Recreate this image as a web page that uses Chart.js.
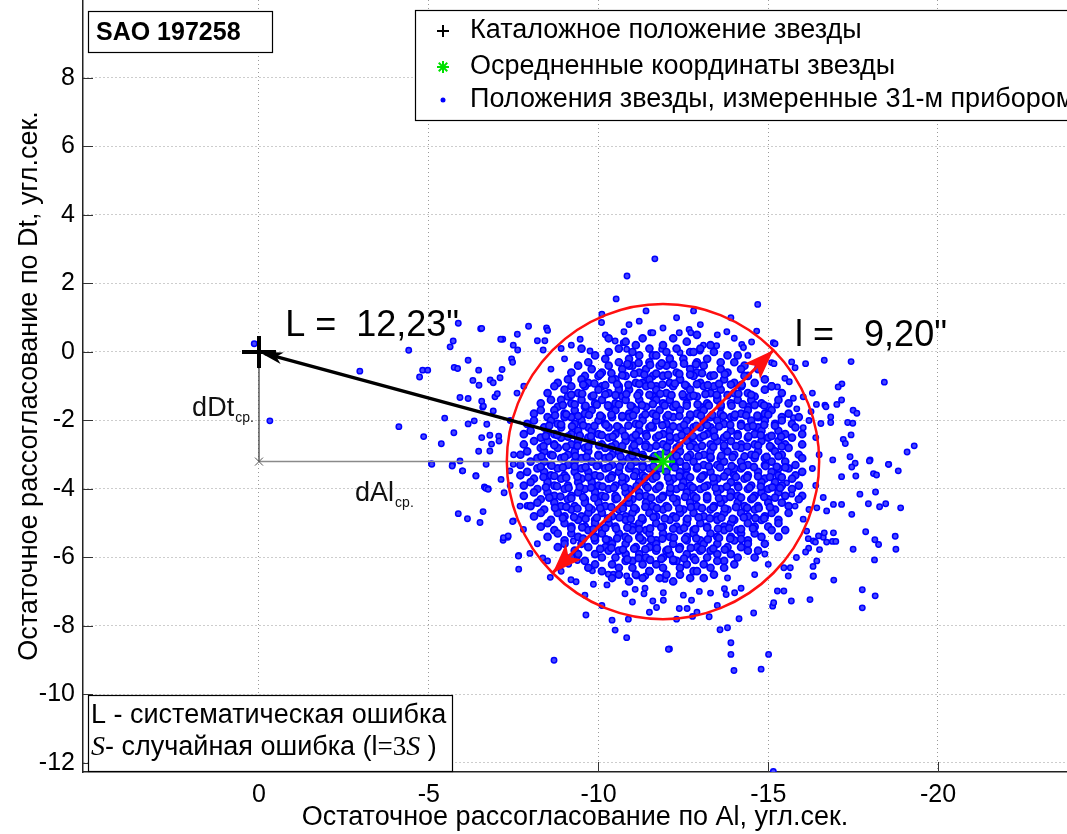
<!DOCTYPE html>
<html>
<head>
<meta charset="utf-8">
<script src="https://cdn.jsdelivr.net/npm/chart.js@4.4.1/dist/chart.umd.min.js"></script>
<style>
  body { margin: 0; background: #fff; }
  canvas { display: block; }
</style>
</head>
<body>
<canvas id="chart" width="1067" height="834"></canvas>
<script>
// Оси
const xTicks = [0, -5, -10, -15, -20];
const yTicks = [8, 6, 4, 2, 0, -2, -4, -6, -8, -10, -12];

// Каталожное и среднее положение, круг разброса
const catalogPos = [0, 0];
const meanPos = [-11.9, -3.2];
const circleRadius = 4.6;
const spreadEnds = [[-8.65, -6.45], [-15.15, 0.05]];

const labelL = 'L =  12,23"';
const labelSpread = 'l =   9,20"';
const legendLabels = [
  "Каталожное положение звезды",
  "Осредненные координаты звезды",
  "Положения звезды, измеренные 31-м прибором",
];

// Измеренные положения (пары x, y), плотное ядро облака
const measuredCore = [
  -10.6,0.1, -10.8,0.3, -11.0,0.0, -11.1,0.2, -11.5,0.1, -11.6,-0.1, -11.9,0.2, -12.0,0.0, -12.3,0.1, -12.6,0.3, -12.7,0.0, -13.0,0.1, -13.3,0.2, -10.3,0.4, -12.2,0.4, -11.3,0.4, -12.9,0.5,
  -9.7,-0.3, -9.9,-0.1, -10.2,-0.2, -10.3,0.0, -10.6,-0.3, -10.9,-0.2, -11.0,-0.4, -11.2,-0.1, -11.5,-0.3, -11.7,-0.1, -11.8,-0.4, -12.1,-0.2, -12.5,-0.2, -12.8,0.0, -12.9,-0.3, -13.2,-0.2, -13.4,0.0, -13.6,-0.3, -13.8,-0.1, -14.1,-0.1, -14.3,-0.4, -9.5,0.1,
  -9.2,-0.6, -9.4,-0.4, -9.6,-0.7, -9.8,-0.5, -10.1,-0.6, -10.3,-0.4, -10.5,-0.8, -10.7,-0.5, -10.9,-0.4, -11.2,-0.6, -11.4,-0.5, -11.6,-0.7, -12.0,-0.4, -12.3,-0.6, -12.4,-0.8, -12.7,-0.5, -12.9,-0.6, -13.1,-0.4, -13.3,-0.7, -13.6,-0.5, -13.8,-0.6, -14.0,-0.3, -14.2,-0.5, -14.4,-0.7, -14.7,-0.5, -11.9,-0.7,
  -8.8,-0.9, -9.1,-0.8, -9.2,-1.0, -9.5,-0.8, -9.7,-0.9, -10.0,-0.7, -10.1,-1.0, -10.4,-0.8, -10.6,-1.0, -10.8,-0.7, -11.1,-0.9, -11.3,-0.9, -11.5,-0.8, -11.7,-1.0, -11.9,-0.7, -12.1,-0.9, -12.4,-0.8, -12.6,-1.0, -12.8,-0.7, -13.0,-0.9, -13.3,-0.7, -13.4,-1.0, -13.7,-0.8, -14.0,-0.9, -14.2,-1.0, -14.3,-0.7, -14.6,-0.9, -14.9,-0.8, -15.1,-1.0,
  -8.5,-1.2, -8.7,-1.0, -9.0,-1.1, -9.1,-1.3, -9.4,-1.2, -9.6,-1.0, -9.8,-1.3, -10.0,-1.1, -10.3,-1.2, -10.6,-1.1, -10.7,-1.3, -10.9,-1.1, -11.2,-1.2, -11.4,-1.0, -11.6,-1.3, -11.7,-1.1, -12.0,-1.2, -12.2,-1.0, -12.5,-1.3, -12.7,-1.1, -13.1,-1.0, -13.3,-1.2, -13.5,-1.3, -13.6,-1.1, -14.0,-1.2, -14.2,-1.0, -14.4,-1.2, -14.6,-1.3, -14.9,-1.1, -15.1,-1.0, -15.4,-1.2, -12.9,-1.3,
  -8.3,-1.5, -8.6,-1.4, -8.8,-1.6, -8.9,-1.4, -9.2,-1.5, -9.5,-1.4, -9.6,-1.6, -9.9,-1.5, -10.1,-1.4, -10.3,-1.6, -10.5,-1.5, -10.8,-1.4, -11.0,-1.6, -11.2,-1.4, -11.4,-1.6, -11.9,-1.5, -12.1,-1.4, -12.3,-1.6, -12.6,-1.5, -12.7,-1.3, -13.0,-1.6, -13.2,-1.5, -13.5,-1.4, -13.6,-1.6, -13.9,-1.5, -14.1,-1.4, -14.4,-1.6, -14.5,-1.4, -14.8,-1.5, -15.0,-1.6, -15.3,-1.4, -15.6,-1.5, -11.7,-1.4,
  -8.1,-1.8, -8.3,-1.7, -8.5,-1.9, -8.7,-1.7, -9.0,-1.8, -9.2,-1.9, -9.3,-1.7, -9.6,-1.8, -9.8,-1.7, -10.1,-1.9, -10.5,-1.7, -10.7,-1.9, -10.9,-1.8, -11.1,-1.7, -11.3,-1.9, -11.6,-1.8, -11.8,-1.7, -12.0,-1.9, -12.2,-1.6, -12.4,-1.7, -12.7,-1.9, -12.9,-1.8, -13.1,-1.7, -13.3,-1.9, -13.6,-1.8, -13.9,-1.9, -14.2,-1.8, -14.4,-1.7, -14.7,-1.9, -14.9,-1.8, -15.1,-1.7, -15.4,-1.9, -15.6,-1.8,
  -7.9,-2.1, -8.1,-2.0, -8.4,-2.2, -8.6,-2.0, -8.8,-2.1, -9.0,-1.9, -9.3,-2.1, -9.5,-2.0, -9.7,-2.2, -10.0,-2.0, -10.2,-2.1, -10.4,-1.9, -10.6,-2.2, -11.1,-2.1, -11.3,-2.0, -11.5,-2.2, -11.7,-2.0, -12.0,-2.1, -12.2,-1.9, -12.4,-2.2, -12.6,-2.0, -12.8,-2.2, -13.1,-2.0, -13.3,-2.2, -13.5,-2.0, -13.7,-2.1, -14.0,-1.9, -14.2,-2.1, -14.5,-2.0, -14.7,-2.2, -14.9,-2.0, -15.2,-2.1, -15.4,-2.0, -15.7,-2.1, -15.9,-1.9, -10.9,-1.9,
  -7.8,-2.4, -8.0,-2.3, -8.3,-2.5, -8.5,-2.3, -8.7,-2.4, -8.9,-2.2, -9.2,-2.4, -9.4,-2.3, -9.7,-2.5, -9.8,-2.3, -10.0,-2.4, -10.3,-2.2, -10.5,-2.4, -10.7,-2.3, -11.0,-2.5, -11.2,-2.3, -11.4,-2.4, -11.6,-2.2, -11.9,-2.4, -12.1,-2.3, -12.3,-2.5, -12.6,-2.3, -12.7,-2.5, -13.0,-2.2, -13.2,-2.4, -13.4,-2.3, -13.7,-2.5, -13.9,-2.3, -14.1,-2.4, -14.4,-2.2, -14.6,-2.4, -14.8,-2.3, -15.0,-2.5, -15.3,-2.3, -15.5,-2.4, -15.8,-2.2, -16.0,-2.4,
  -7.8,-2.7, -8.1,-2.6, -8.3,-2.8, -8.5,-2.6, -8.7,-2.7, -8.9,-2.5, -9.2,-2.7, -9.4,-2.6, -9.6,-2.8, -9.8,-2.6, -10.1,-2.7, -10.3,-2.5, -10.5,-2.7, -10.8,-2.6, -11.0,-2.8, -11.2,-2.6, -11.4,-2.7, -11.7,-2.5, -11.9,-2.7, -12.1,-2.6, -12.3,-2.8, -12.6,-2.6, -12.8,-2.7, -13.0,-2.5, -13.3,-2.7, -13.5,-2.6, -13.7,-2.8, -13.9,-2.6, -14.2,-2.7, -14.4,-2.5, -14.6,-2.7, -14.8,-2.6, -15.1,-2.8, -15.3,-2.6, -15.5,-2.7, -15.7,-2.5, -16.0,-2.7,
  -7.7,-3.0, -7.9,-2.9, -8.2,-3.1, -8.4,-2.9, -8.6,-3.0, -8.8,-2.8, -9.1,-3.0, -9.3,-2.9, -9.5,-3.1, -9.7,-2.9, -10.0,-3.0, -10.2,-2.8, -10.4,-3.0, -10.6,-2.9, -10.9,-3.1, -11.1,-2.9, -11.3,-3.0, -11.5,-2.8, -11.8,-3.0, -12.0,-2.9, -12.2,-3.1, -12.4,-2.9, -12.7,-3.0, -12.9,-2.8, -13.1,-3.0, -13.3,-2.9, -13.6,-3.1, -13.8,-2.9, -14.0,-3.0, -14.2,-2.8, -14.5,-3.0, -14.7,-2.9, -14.9,-3.1, -15.2,-2.9, -15.4,-3.0, -15.6,-2.8, -15.9,-3.0,
  -7.7,-3.3, -8.0,-3.2, -8.2,-3.4, -8.4,-3.2, -8.6,-3.3, -8.9,-3.1, -9.1,-3.3, -9.3,-3.2, -9.5,-3.4, -9.8,-3.2, -10.0,-3.3, -10.2,-3.1, -10.4,-3.3, -10.7,-3.2, -10.9,-3.4, -11.1,-3.2, -11.3,-3.3, -11.6,-3.1, -11.8,-3.4, -12.2,-3.3, -12.4,-3.2, -12.6,-3.4, -12.8,-3.2, -13.1,-3.3, -13.3,-3.1, -13.5,-3.3, -13.7,-3.2, -14.0,-3.4, -14.2,-3.2, -14.4,-3.3, -14.6,-3.1, -14.9,-3.3, -15.1,-3.2, -15.3,-3.4, -15.5,-3.2, -15.8,-3.3, -16.0,-3.1,
  -7.7,-3.6, -7.9,-3.5, -8.1,-3.7, -8.4,-3.5, -8.6,-3.6, -8.8,-3.4, -9.0,-3.6, -9.3,-3.5, -9.5,-3.7, -9.7,-3.5, -9.9,-3.6, -10.2,-3.4, -10.4,-3.6, -10.6,-3.5, -10.8,-3.7, -11.1,-3.5, -11.3,-3.6, -11.5,-3.4, -11.7,-3.6, -12.0,-3.5, -12.2,-3.7, -12.4,-3.5, -12.6,-3.6, -12.9,-3.4, -13.1,-3.6, -13.3,-3.5, -13.5,-3.7, -13.8,-3.5, -14.0,-3.6, -14.2,-3.4, -14.4,-3.6, -14.7,-3.5, -14.9,-3.7, -15.1,-3.5, -15.3,-3.6, -15.6,-3.4, -15.8,-3.6, -16.0,-3.5,
  -7.8,-3.9, -8.0,-3.8, -8.2,-4.0, -8.5,-3.8, -8.7,-3.9, -8.9,-3.7, -9.1,-3.9, -9.4,-3.8, -9.6,-4.0, -9.8,-3.8, -10.0,-3.9, -10.3,-3.7, -10.5,-3.9, -10.7,-3.8, -10.9,-4.0, -11.2,-3.8, -11.4,-3.9, -11.6,-3.7, -11.8,-3.9, -12.1,-3.8, -12.3,-4.0, -12.5,-3.8, -12.7,-3.9, -13.0,-3.7, -13.2,-3.9, -13.4,-3.8, -13.6,-4.0, -13.9,-3.8, -14.1,-3.9, -14.3,-3.7, -14.5,-3.9, -14.8,-3.8, -15.0,-4.0, -15.2,-3.8, -15.4,-3.9, -15.7,-3.7, -15.9,-3.9,
  -7.8,-4.2, -8.1,-4.1, -8.3,-4.3, -8.5,-4.1, -8.7,-4.2, -9.0,-4.0, -9.2,-4.2, -9.4,-4.1, -9.6,-4.3, -9.9,-4.1, -10.1,-4.2, -10.3,-4.0, -10.5,-4.2, -10.8,-4.1, -11.0,-4.3, -11.2,-4.1, -11.4,-4.2, -11.7,-4.0, -11.9,-4.2, -12.1,-4.1, -12.3,-4.3, -12.6,-4.1, -12.8,-4.2, -13.0,-4.0, -13.2,-4.2, -13.5,-4.1, -13.7,-4.3, -13.9,-4.1, -14.1,-4.2, -14.4,-4.0, -14.6,-4.2, -14.8,-4.1, -15.0,-4.3, -15.3,-4.1, -15.5,-4.2, -15.7,-4.0, -16.0,-4.2,
  -8.0,-4.5, -8.2,-4.4, -8.4,-4.6, -8.7,-4.4, -8.9,-4.5, -9.1,-4.3, -9.3,-4.5, -9.6,-4.4, -9.8,-4.6, -10.0,-4.4, -10.2,-4.5, -10.5,-4.3, -10.7,-4.5, -10.9,-4.4, -11.1,-4.6, -11.4,-4.4, -11.6,-4.5, -11.8,-4.3, -12.0,-4.5, -12.3,-4.4, -12.5,-4.6, -12.7,-4.4, -12.9,-4.5, -13.2,-4.3, -13.4,-4.5, -13.6,-4.4, -13.8,-4.6, -14.1,-4.4, -14.3,-4.5, -14.5,-4.3, -14.7,-4.5, -15.0,-4.4, -15.2,-4.6, -15.4,-4.4, -15.6,-4.5, -15.9,-4.3,
  -8.1,-4.8, -8.3,-4.7, -8.6,-4.9, -8.8,-4.7, -9.0,-4.8, -9.2,-4.6, -9.5,-4.8, -9.7,-4.7, -9.9,-4.9, -10.1,-4.7, -10.4,-4.8, -10.6,-4.6, -10.8,-4.8, -11.0,-4.7, -11.3,-4.9, -11.5,-4.7, -11.7,-4.8, -11.9,-4.6, -12.2,-4.8, -12.4,-4.7, -12.6,-4.9, -12.8,-4.7, -13.1,-4.8, -13.3,-4.6, -13.5,-4.8, -13.7,-4.7, -14.0,-4.9, -14.2,-4.7, -14.4,-4.8, -14.6,-4.6, -14.9,-4.8, -15.1,-4.7, -15.3,-4.9, -15.6,-4.7,
  -8.3,-5.1, -8.5,-5.0, -8.7,-5.2, -9.0,-5.0, -9.2,-5.1, -9.4,-4.9, -9.6,-5.1, -9.9,-5.0, -10.1,-5.2, -10.3,-5.0, -10.5,-5.1, -10.8,-4.9, -11.0,-5.1, -11.2,-5.0, -11.4,-5.2, -11.7,-5.0, -11.9,-5.1, -12.1,-4.9, -12.3,-5.1, -12.6,-5.0, -12.8,-5.2, -13.0,-5.0, -13.2,-5.1, -13.5,-4.9, -13.7,-5.1, -13.9,-5.0, -14.1,-5.2, -14.4,-5.0, -14.6,-5.1, -14.8,-4.9, -15.0,-5.1, -15.3,-5.0, -15.5,-5.2,
  -8.5,-5.4, -8.8,-5.3, -9.0,-5.5, -9.2,-5.3, -9.4,-5.4, -9.7,-5.2, -9.9,-5.4, -10.1,-5.3, -10.3,-5.5, -10.6,-5.3, -10.8,-5.4, -11.0,-5.2, -11.2,-5.4, -11.5,-5.3, -11.7,-5.5, -11.9,-5.3, -12.1,-5.4, -12.4,-5.2, -12.6,-5.4, -12.8,-5.3, -13.0,-5.5, -13.3,-5.3, -13.5,-5.4, -13.7,-5.2, -13.9,-5.4, -14.2,-5.3, -14.4,-5.5, -14.6,-5.3, -14.8,-5.4, -15.1,-5.2, -15.3,-5.4,
  -8.8,-5.7, -9.0,-5.6, -9.3,-5.8, -9.5,-5.6, -9.7,-5.7, -9.9,-5.5, -10.2,-5.7, -10.4,-5.6, -10.6,-5.8, -10.8,-5.6, -11.1,-5.7, -11.3,-5.5, -11.5,-5.7, -11.7,-5.6, -12.0,-5.8, -12.2,-5.6, -12.4,-5.7, -12.6,-5.5, -12.9,-5.7, -13.1,-5.6, -13.3,-5.8, -13.5,-5.6, -13.8,-5.7, -14.0,-5.5, -14.2,-5.7, -14.4,-5.6, -14.7,-5.8, -14.9,-5.6,
  -9.2,-6.0, -9.4,-5.9, -9.6,-6.1, -9.9,-5.9, -10.1,-6.0, -10.3,-5.8, -10.5,-6.0, -10.8,-5.9, -11.0,-6.1, -11.2,-5.9, -11.4,-6.0, -11.7,-5.8, -11.9,-6.0, -12.1,-5.9, -12.3,-6.1, -12.6,-5.9, -12.8,-6.0, -13.0,-5.8, -13.2,-6.0, -13.5,-5.9, -13.7,-6.1, -13.9,-5.9, -14.1,-6.0, -14.4,-5.8, -14.6,-6.0,
  -9.7,-6.3, -9.9,-6.2, -10.1,-6.4, -10.4,-6.2, -10.6,-6.3, -10.8,-6.1, -11.0,-6.3, -11.3,-6.2, -11.5,-6.4, -11.7,-6.2, -11.9,-6.3, -12.2,-6.1, -12.4,-6.3, -12.6,-6.2, -12.8,-6.4, -13.1,-6.2, -13.3,-6.3, -13.5,-6.1, -13.7,-6.3, -14.0,-6.2,
  -10.4,-6.6, -10.6,-6.5, -10.9,-6.7, -11.1,-6.5, -11.3,-6.6, -11.5,-6.4, -11.8,-6.6, -12.0,-6.5, -12.2,-6.7, -12.4,-6.5, -12.7,-6.6, -12.9,-6.4, -13.1,-6.6, -13.4,-6.5,
];

// Самая плотная центральная часть (пары x, y)
const measuredCenter = [
  -10.85,-0.35, -11.18,-0.32, -11.52,-0.38, -11.86,-0.33, -12.2,-0.37, -12.52,-0.34, -12.87,-0.36,
  -10.05,-0.65, -10.38,-0.62, -10.7,-0.68, -11.05,-0.64, -11.35,-0.66, -11.7,-0.63, -12.05,-0.67, -12.38,-0.64, -12.7,-0.66, -13.05,-0.62, -13.4,-0.68, -13.72,-0.65,
  -9.55,-0.95, -9.88,-0.92, -10.2,-0.97, -10.55,-0.94, -10.88,-0.96, -11.2,-0.93, -11.55,-0.97, -11.88,-0.95, -12.25,-0.92, -12.55,-0.96, -12.9,-0.94, -13.22,-0.97, -13.55,-0.93, -13.9,-0.95, -14.22,-0.96,
  -9.2,-1.25, -9.52,-1.22, -9.85,-1.27, -10.2,-1.24, -10.5,-1.26, -10.82,-1.23, -11.15,-1.27, -11.5,-1.25, -11.82,-1.22, -12.15,-1.26, -12.48,-1.24, -12.8,-1.27, -13.15,-1.23, -13.48,-1.25, -13.8,-1.26, -14.12,-1.22, -14.5,-1.25,
  -8.95,-1.55, -9.3,-1.53, -9.62,-1.57, -9.95,-1.54, -10.28,-1.56, -10.6,-1.53, -10.95,-1.57, -11.28,-1.55, -11.6,-1.52, -11.95,-1.56, -12.28,-1.54, -12.6,-1.57, -12.92,-1.53, -13.25,-1.56, -13.6,-1.54, -13.92,-1.57, -14.25,-1.53, -14.6,-1.55, -14.88,-1.56,
  -8.72,-1.85, -9.05,-1.82, -9.4,-1.87, -9.72,-1.84, -10.05,-1.86, -10.38,-1.83, -10.7,-1.87, -11.02,-1.85, -11.38,-1.82, -11.7,-1.86, -12.05,-1.84, -12.38,-1.87, -12.7,-1.83, -13.02,-1.86, -13.35,-1.84, -13.68,-1.87, -14.02,-1.83, -14.35,-1.85, -14.68,-1.86, -15.0,-1.83,
  -8.55,-2.15, -8.9,-2.12, -9.22,-2.17, -9.55,-2.14, -9.88,-2.16, -10.22,-2.13, -10.55,-2.17, -10.88,-2.15, -11.2,-2.12, -11.55,-2.16, -11.88,-2.14, -12.2,-2.17, -12.52,-2.13, -12.88,-2.16, -13.2,-2.14, -13.55,-2.17, -13.88,-2.13, -14.2,-2.15, -14.55,-2.16, -14.88,-2.13, -15.2,-2.15,
  -8.45,-2.45, -8.78,-2.42, -9.1,-2.47, -9.45,-2.44, -9.78,-2.46, -10.1,-2.43, -10.42,-2.47, -10.78,-2.45, -11.1,-2.42, -11.42,-2.46, -11.78,-2.44, -12.1,-2.47, -12.45,-2.43, -12.78,-2.46, -13.1,-2.44, -13.42,-2.47, -13.78,-2.43, -14.1,-2.45, -14.42,-2.46, -14.78,-2.43, -15.1,-2.45, -15.38,-2.47,
  -8.38,-2.75, -8.7,-2.72, -9.05,-2.77, -9.38,-2.74, -9.7,-2.76, -10.02,-2.73, -10.38,-2.77, -10.7,-2.75, -11.05,-2.72, -11.38,-2.76, -11.7,-2.74, -12.02,-2.77, -12.38,-2.73, -12.7,-2.76, -13.05,-2.74, -13.38,-2.77, -13.7,-2.73, -14.05,-2.75, -14.38,-2.76, -14.7,-2.73, -15.05,-2.75, -15.4,-2.76,
  -8.32,-3.05, -8.65,-3.02, -9.0,-3.07, -9.32,-3.04, -9.65,-3.06, -10.0,-3.03, -10.32,-3.07, -10.65,-3.05, -11.0,-3.02, -11.32,-3.06, -11.65,-3.04, -12.3,-3.03, -12.62,-3.07, -12.95,-3.04, -13.3,-3.06, -13.62,-3.03, -13.95,-3.07, -14.3,-3.05, -14.62,-3.02, -14.95,-3.06, -15.3,-3.04,
  -8.3,-3.35, -8.62,-3.32, -8.95,-3.37, -9.3,-3.34, -9.62,-3.36, -9.95,-3.33, -10.3,-3.37, -10.62,-3.35, -10.95,-3.32, -11.3,-3.36, -11.62,-3.34, -12.25,-3.37, -12.58,-3.33, -12.92,-3.36, -13.25,-3.34, -13.58,-3.37, -13.92,-3.33, -14.25,-3.35, -14.58,-3.36, -14.92,-3.33, -15.25,-3.35, -15.5,-3.37,
  -8.38,-3.65, -8.7,-3.62, -9.05,-3.67, -9.38,-3.64, -9.7,-3.66, -10.05,-3.63, -10.38,-3.67, -10.7,-3.65, -11.05,-3.62, -11.38,-3.66, -11.7,-3.64, -12.05,-3.67, -12.38,-3.63, -12.7,-3.66, -13.05,-3.64, -13.38,-3.67, -13.7,-3.63, -14.05,-3.65, -14.38,-3.66, -14.7,-3.63, -15.05,-3.65, -15.4,-3.66,
  -8.45,-3.95, -8.78,-3.92, -9.12,-3.97, -9.45,-3.94, -9.78,-3.96, -10.12,-3.93, -10.45,-3.97, -10.78,-3.95, -11.12,-3.92, -11.45,-3.96, -11.78,-3.94, -12.12,-3.97, -12.45,-3.93, -12.78,-3.96, -13.12,-3.94, -13.45,-3.97, -13.78,-3.93, -14.12,-3.95, -14.45,-3.96, -14.78,-3.93, -15.12,-3.95, -15.35,-3.97,
  -8.55,-4.25, -8.88,-4.22, -9.2,-4.27, -9.55,-4.24, -9.88,-4.26, -10.2,-4.23, -10.55,-4.27, -10.88,-4.25, -11.2,-4.22, -11.55,-4.26, -11.88,-4.24, -12.2,-4.27, -12.55,-4.23, -12.88,-4.26, -13.2,-4.24, -13.55,-4.27, -13.88,-4.23, -14.2,-4.25, -14.55,-4.26, -14.88,-4.23, -15.2,-4.25,
  -8.72,-4.55, -9.05,-4.52, -9.38,-4.57, -9.72,-4.54, -10.05,-4.56, -10.38,-4.53, -10.72,-4.57, -11.05,-4.55, -11.38,-4.52, -11.72,-4.56, -12.05,-4.54, -12.38,-4.57, -12.72,-4.53, -13.05,-4.56, -13.38,-4.54, -13.72,-4.57, -14.05,-4.53, -14.38,-4.55, -14.72,-4.56, -15.05,-4.53,
  -8.95,-4.85, -9.28,-4.82, -9.62,-4.87, -9.95,-4.84, -10.28,-4.86, -10.62,-4.83, -10.95,-4.87, -11.28,-4.85, -11.62,-4.82, -11.95,-4.86, -12.28,-4.84, -12.62,-4.87, -12.95,-4.83, -13.28,-4.86, -13.62,-4.84, -13.95,-4.87, -14.28,-4.83, -14.62,-4.85, -14.88,-4.86,
  -9.2,-5.15, -9.52,-5.12, -9.85,-5.17, -10.2,-5.14, -10.52,-5.16, -10.85,-5.13, -11.2,-5.17, -11.52,-5.15, -11.85,-5.12, -12.2,-5.16, -12.52,-5.14, -12.85,-5.17, -13.2,-5.13, -13.52,-5.16, -13.85,-5.14, -14.2,-5.17, -14.55,-5.15,
  -9.55,-5.45, -9.88,-5.42, -10.22,-5.47, -10.55,-5.44, -10.88,-5.46, -11.22,-5.43, -11.55,-5.47, -11.88,-5.45, -12.22,-5.42, -12.55,-5.46, -12.88,-5.44, -13.22,-5.47, -13.55,-5.43, -13.88,-5.45, -14.2,-5.46,
  -10.05,-5.75, -10.38,-5.72, -10.72,-5.77, -11.05,-5.74, -11.38,-5.76, -11.72,-5.73, -12.05,-5.77, -12.38,-5.75, -12.72,-5.72, -13.05,-5.76, -13.38,-5.74, -13.72,-5.77,
  -10.85,-6.05, -11.18,-6.02, -11.52,-6.07, -11.85,-6.04, -12.2,-6.06, -12.52,-6.03, -12.85,-6.07,
];

// Редкие точки по краям облака (пары x, y)
const measuredOuter = [
  -11.66,2.72, -10.84,2.22, -10.52,1.55, -14.69,1.39,
  -5.87,0.84, -6.53,0.68, -4.41,0.05, -5.72,0.32, -5.63,0.15, -6.16,-0.24, -5.75,-0.45, -5.85,-0.48,
  -4.82,-0.53, -4.97,-0.53, -4.73,-0.73, -4.12,-2.18, -4.85,-2.47, -5.37,-2.68, -5.47,-1.93, -5.92,-1.33,
  -6.16,-1.36, -6.47,-0.53, -6.30,-0.83, -6.48,-0.97, -6.81,-0.82, -6.90,-0.90, -7.18,0.37, -7.61,0.52,
  -7.94,0.75, -8.47,0.70, -8.20,0.33, -8.42,0.33, -8.37,0.06, -7.49,0.20, -7.62,0.06, -7.44,-0.20,
  -7.47,-0.30, -7.16,-0.51, -7.10,-0.75, -6.16,-2.10, -6.34,-2.01, -5.74,-2.36, -6.56,-1.44, -6.59,-1.61,
  -6.95,-1.31, -7.02,-1.22, -6.80,-2.43, -7.06,-2.46, -7.07,-2.60, -6.85,-2.69, -6.47,-2.90, -5.92,-3.18,
  -5.70,-3.28, -5.08,-3.26, 0.14,0.24, -0.32,-2.01, -2.97,-0.56, -5.99,-3.47, -6.39,-3.61, -6.64,-3.94,
  -6.75,-3.99, -6.69,-3.28, -6.56,0.69, -7.12,0.37, -8.50,0.63,
  -10.09,0.86, -10.75,0.59, -11.54,0.56, -11.60,0.56, -12.38,0.56, -12.67,0.66, -12.72,0.56, -13.78,0.59,
  -14.66,0.61, -13.48,0.18, -14.22,0.22, -14.27,0.13, -15.15,0.27, -15.10,-0.31, -15.17,-0.34,
  -10.49,0.32, -10.73,0.27, -10.83,0.08, -9.46,0.37, -9.75,0.03, -11.86,0.08, -12.40,-0.02, -12.99,0.03,
  -12.11,-0.17, -13.09,0.20, -14.51,0.29, -9.2,0.2, -10.2,0.5, -10.9,0.8, -11.2,0.9, -11.9,0.7, -12.3,1.0,
  -13.0,0.8, -13.5,0.5, -14.0,0.4, -14.4,-0.1, -14.7,-0.4, -9.0,-0.2, -8.6,-0.5, -8.9,0.1, -11.4,1.2,
  -12.8,1.2, -13.9,1.0, -10.1,1.1,
  -15.20,0.24, -15.69,-0.29, -15.79,-0.46, -16.10,-0.34, -16.65,-0.24, -17.44,-0.28, -18.42,-0.88,
  -17.17,-0.93, -17.06,-1.02, -15.49,-0.77, -15.62,-0.87, -15.27,-1.02, -16.03,-1.31, -15.74,-1.35,
  -15.25,-1.55, -16.42,-1.53, -16.67,-1.55, -16.70,-1.60, -17.02,-1.53, -17.16,-1.40, -17.50,-1.70,
  -17.61,-1.79, -17.34,-2.06, -17.49,-2.08, -16.84,-1.90, -16.84,-2.06, -16.55,-2.09, -16.26,-1.74,
  -15.84,-1.66, -15.74,-1.92, -17.44,-2.42, -17.21,-2.55, -17.27,-2.67, -19.09,-2.92, -19.30,-2.74,
  -18.55,-3.28, -18.00,-3.15, -16.90,-3.15, -17.41,-3.06, -17.56,-3.25, -16.03,-2.21,
  -15.54,-3.82, -15.69,-4.15, -15.79,-4.50, -16.03,-4.88, -16.43,-4.55, -16.62,-4.25, -16.72,-4.64,
  -16.92,-4.45, -17.16,-4.45, -16.13,-5.23, -16.33,-5.52,
  -16.3,-1.2, -16.4,-2.5, -16.5,-3.0, -16.4,-3.9, -16.2,-4.6, -16.3,-3.4, -16.2,-2.0,
  -12.09,-8.67, -13.90,-8.49, -13.90,-8.83, -13.99,-9.30, -15.01,-8.83, -13.58,-8.11, -13.80,-8.05,
  -14.14,-7.79, -14.57,-7.62, -15.13,-7.42, -15.16,-7.32, -15.27,-6.98, -15.46,-6.98, -15.68,-7.27,
  -16.23,-7.23, -17.77,-6.94, -17.77,-7.47, -18.15,-7.12, -16.93,-6.66, -16.32,-6.55, -17.50,-5.76,
  -18.14,-5.48, -18.25,-5.62, -18.74,-5.38, -18.76,-5.76, -18.13,-6.07, -17.87,-5.25, -17.46,-4.74,
  -17.95,-4.43, -18.28,-4.52, -18.46,-4.43, -18.90,-4.55, -17.70,-4.15, -18.16,-4.09, -18.83,-3.47,
  -18.54,-3.28, -18.10,-3.55, -18.19,-3.59, -17.58,-3.62, -17.16,-3.64, -17.46,-3.36, -17.98,-3.18,
  -16.89,-5.53, -16.99,-5.53, -16.72,-5.55, -16.62,-5.41, -16.39,-5.55, -16.18,-5.45, -16.19,-5.73,
  -16.10,-5.84, -15.83,-6.00, -15.65,-6.30, -15.59,-6.54, -15.46,-6.30, -16.32,-6.26, -16.33,-6.54,
  -16.43,-6.10, -16.51,-5.77, -16.65,-5.28, -16.48,-5.37, -16.92,-5.28,
  -12.38,-7.49, -12.61,-7.49, -13.26,-7.73, -12.77,-7.72, -11.91,-7.25, -12.74,-7.25, -12.97,-6.99,
  -13.30,-7.04, -13.71,-6.91, -13.76,-7.08, -14.01,-7.03,
  -7.65,-6.34, -7.65,-5.94, -7.19,-5.50, -7.33,-5.41, -7.98,-5.88, -8.36,-6.01, -8.50,-6.10, -8.58,-6.58,
  -9.19,-6.65, -9.34,-6.71, -9.12,-6.20, -9.08,-6.01, -9.26,-5.52, -9.38,-6.09,
  -9.82,-6.39, -9.85,-6.78, -10.25,-6.80, -10.29,-6.49, -10.44,-6.49, -10.58,-6.50, -10.83,-6.54,
  -11.12,-6.54, -11.39,-6.54, -10.78,-7.06, -11.08,-6.93, -11.37,-6.90, -11.34,-7.06, -11.60,-7.27,
  -11.71,-7.46, -11.91,-7.03, -11.96,-6.64,
  -8.69,-9.00, -9.63,-7.68, -10.40,-7.83, -10.49,-8.12, -10.83,-8.34, -10.88,-7.80, -12.06,-8.68,
  -5.87,-4.72, -6.14,-4.87, -6.51,-4.98, -6.60,-4.66, -6.39,-3.62, -6.68,-3.98, -6.75,-4.01, -6.00,-3.47,
  -5.69,-3.33, -5.09,-3.28,
  -6.61,-1.58, -6.90,-1.72, -6.71,-2.11, -6.56,-2.50, -6.80,-2.89, -7.49,-4.93, -7.89,-4.50, -7.20,-5.42,
  -7.34,-5.37, -7.64,-5.96, -7.47,-4.95, -7.79,-5.18, -7.69,-4.50, -7.91,-4.48, -7.13,-3.72, -7.22,-4.11,
  -7.39,-3.47, -7.49,-3.28, -7.4,-2.0, -7.5,-3.0, -7.4,-3.9, -7.6,-1.2, -7.8,-1.0,
  -11.0,-7.3, -11.5,-7.6, -12.3,-7.8, -12.9,-7.6, -13.5,-7.4, -14.2,-6.9, -14.6,-6.5, -15.0,-6.2,
  -9.6,-7.1, -10.1,-7.4, -12.5,-7.1, -13.8,-6.6, -14.9,-5.9, -8.9,-6.4, -8.2,-5.6,
  -14.79,-9.26, -15.15,-12.25,
];

const FONT = "'Liberation Sans', Arial, sans-serif";

function toPoints(arr) {
  const out = [];
  for (let i = 0; i < arr.length; i += 2) out.push({ x: arr[i], y: arr[i + 1] });
  return out;
}

function line(ctx, x0, y0, x1, y1) {
  ctx.beginPath();
  ctx.moveTo(x0, y0);
  ctx.lineTo(x1, y1);
  ctx.stroke();
}

function arrowHead(ctx, x0, y0, x1, y1, len, half) {
  const a = Math.atan2(y1 - y0, x1 - x0);
  const c = Math.cos(a), s = Math.sin(a);
  ctx.beginPath();
  ctx.moveTo(x1, y1);
  ctx.lineTo(x1 - len * c + half * s, y1 - len * s - half * c);
  ctx.lineTo(x1 - len * 0.75 * c, y1 - len * 0.75 * s);
  ctx.lineTo(x1 - len * c - half * s, y1 - len * s + half * c);
  ctx.closePath();
  ctx.fill();
}

function asterisk(ctx, x, y, r) {
  for (let k = 0; k < 4; k++) {
    const a = k * Math.PI / 4;
    line(ctx, x - r * Math.cos(a), y - r * Math.sin(a), x + r * Math.cos(a), y + r * Math.sin(a));
  }
}

// убрать запасы, которые Chart.js оставляет под крайние подписи
function noPadding(s) {
  s.paddingTop = 0;
  s.paddingBottom = 0;
  s.paddingLeft = 0;
  s.paddingRight = 0;
}

const overlay = {
  id: "overlay",
  afterDatasetsDraw(chart) {
    const { ctx } = chart;
    const xs = chart.scales.x, ys = chart.scales.y;
    const px = v => xs.getPixelForValue(v);
    const py = v => ys.getPixelForValue(v);
    const cx = px(catalogPos[0]), cy = py(catalogPos[1]);
    const mx = px(meanPos[0]), my = py(meanPos[1]);

    ctx.save();
    ctx.lineCap = "butt";
    // dDt / dAl
    ctx.strokeStyle = "#333";
    ctx.lineWidth = 1.2;
    line(ctx, cx, cy, cx, my);
    ctx.strokeStyle = "#8a8a8a";
    ctx.lineWidth = 1.5;
    line(ctx, cx, my, mx, my);
    ctx.strokeStyle = "#555";
    ctx.lineWidth = 1;
    line(ctx, cx - 4, my - 4, cx + 4, my + 4);
    line(ctx, cx - 4, my + 4, cx + 4, my - 4);

    // круг разброса
    const rx = Math.abs(px(meanPos[0] + circleRadius) - mx);
    const ry = Math.abs(py(meanPos[1] + circleRadius) - my);
    ctx.strokeStyle = "#ff1010";
    ctx.lineWidth = 2.5;
    ctx.beginPath();
    ctx.ellipse(mx, my, rx, ry, 0, 0, Math.PI * 2);
    ctx.stroke();

    // двойная стрелка l
    const ax = px(spreadEnds[0][0]), ay = py(spreadEnds[0][1]);
    const bx = px(spreadEnds[1][0]), by = py(spreadEnds[1][1]);
    ctx.lineWidth = 3;
    line(ctx, ax, ay, bx, by);
    ctx.fillStyle = "#ff1010";
    arrowHead(ctx, ax, ay, bx, by, 30, 11);
    arrowHead(ctx, bx, by, ax, ay, 30, 11);

    // стрелка L
    ctx.strokeStyle = "#000";
    ctx.fillStyle = "#000";
    ctx.lineWidth = 3.5;
    line(ctx, mx, my, cx + 6, cy + 1.6);
    arrowHead(ctx, mx, my, cx, cy, 24, 6);

    // каталожное положение
    ctx.lineWidth = 4;
    line(ctx, cx - 17, cy, cx + 17, cy);
    line(ctx, cx, cy - 16, cx, cy + 16);

    // среднее положение
    ctx.strokeStyle = "#00e000";
    ctx.lineWidth = 2.5;
    asterisk(ctx, mx, my, 12);

    // подписи
    ctx.fillStyle = "#000";
    ctx.textBaseline = "alphabetic";
    ctx.textAlign = "left";
    ctx.font = "36px " + FONT;
    ctx.fillText(labelL, px(-0.77), py(0.47));
    ctx.fillText(labelSpread, px(-15.79), py(0.18));

    ctx.fillStyle = "#111";
    ctx.font = "27px " + FONT;
    let tx = px(1.97), ty = py(-1.87);
    ctx.fillText("dDt", tx, ty);
    let w = ctx.measureText("dDt").width;
    ctx.font = "14px " + FONT;
    ctx.fillText("ср.", tx + w + 1, ty + 6);

    ctx.font = "27px " + FONT;
    tx = px(-2.83); ty = py(-4.35);
    ctx.fillText("dAl", tx, ty);
    w = ctx.measureText("dAl").width;
    ctx.font = "14px " + FONT;
    ctx.fillText("ср.", tx + w + 1, ty + 6);
    ctx.restore();
  },
  afterDraw(chart) {
    const { ctx, chartArea } = chart;
    const xs = chart.scales.x, ys = chart.scales.y;
    ctx.save();

    // метки делений внутрь
    ctx.strokeStyle = "#333";
    ctx.lineWidth = 1;
    xTicks.forEach(v => {
      const p = Math.round(xs.getPixelForValue(v)) + 0.5;
      line(ctx, p, chartArea.bottom, p, chartArea.bottom - 10);
    });
    yTicks.forEach(v => {
      const p = Math.round(ys.getPixelForValue(v)) + 0.5;
      line(ctx, chartArea.left, p, chartArea.left + 10, p);
    });

    // SAO
    ctx.fillStyle = "#fff";
    ctx.strokeStyle = "#000";
    ctx.lineWidth = 1.2;
    ctx.fillRect(88.5, 11.5, 184, 41);
    ctx.strokeRect(88.5, 11.5, 184, 41);
    ctx.fillStyle = "#000";
    ctx.font = "bold 25px " + FONT;
    ctx.textBaseline = "middle";
    ctx.fillText("SAO 197258", 96, 33);

    // легенда
    ctx.fillStyle = "#fff";
    ctx.fillRect(415.5, 10.5, 660, 110);
    ctx.strokeRect(415.5, 10.5, 660, 110);
    const rows = [31, 67, 100];
    ctx.font = "27px " + FONT;
    ctx.fillStyle = "#000";
    legendLabels.forEach((t, i) => ctx.fillText(t, 470, rows[i]));
    ctx.strokeStyle = "#000";
    ctx.lineWidth = 2;
    line(ctx, 437, rows[0], 449, rows[0]);
    line(ctx, 443, rows[0] - 6, 443, rows[0] + 6);
    ctx.strokeStyle = "#00e000";
    asterisk(ctx, 443, rows[1], 6);
    ctx.fillStyle = "#0000ff";
    ctx.beginPath();
    ctx.arc(443, rows[2], 2.5, 0, Math.PI * 2);
    ctx.fill();

    // пояснения
    ctx.fillStyle = "#fff";
    ctx.strokeStyle = "#000";
    ctx.lineWidth = 1.2;
    ctx.fillRect(88.5, 695.5, 364, 76);
    ctx.strokeRect(88.5, 695.5, 364, 76);
    ctx.fillStyle = "#000";
    ctx.font = "27px " + FONT;
    ctx.fillText("L - систематическая ошибка", 91, 716);
    const parts = [
      ["italic 28px 'Liberation Serif', serif", "S"],
      ["27px " + FONT, "- случайная ошибка ("],
      ["27px " + FONT, "l"],
      ["27px 'Liberation Serif', serif", "=3"],
      ["italic 28px 'Liberation Serif', serif", "S"],
      ["27px " + FONT, " )"],
    ];
    let x = 91;
    parts.forEach(([f, t]) => {
      ctx.font = f;
      ctx.fillText(t, x, 748);
      x += ctx.measureText(t).width;
    });
    ctx.restore();
  },
};

const ctxC = document.getElementById("chart").getContext("2d");

new Chart(ctxC, {
  type: "scatter",
  data: {
    datasets: [
      {
        label: "core",
        data: toPoints(measuredCore).concat(toPoints(measuredCenter)),
        pointRadius: 3.5,
        pointBorderWidth: 1.7,
        borderColor: "#0000ff",
        backgroundColor: "#3030ff",
      },
      {
        label: legendLabels[2],
        data: toPoints(measuredOuter),
        pointRadius: 2.7,
        pointBorderWidth: 1.5,
        borderColor: "#0000ff",
        backgroundColor: "#4848ff",
      },
    ],
  },
  options: {
    responsive: false,
    animation: false,
    layout: { padding: 0, autoPadding: false },
    plugins: {
      legend: { display: false },
      tooltip: { enabled: false },
    },
    scales: {
      x: {
        type: "linear",
        reverse: true,
        min: -23.8,
        max: 5.184,
        afterBuildTicks: s => { s.ticks = xTicks.map(v => ({ value: v })); },
        afterFit: s => { s.height = 62; noPadding(s); },
        grid: { color: "#9a9a9a", lineWidth: 1, drawTicks: false },
        border: { display: true, color: "#222", width: 1.5, dash: [1, 3] },
        ticks: { color: "#000", padding: 8, font: { family: FONT, size: 25 } },
        title: {
          display: true,
          text: "Остаточное рассогласование по Al, угл.сек.",
          color: "#000",
          font: { family: FONT, size: 27 },
          padding: { top: 0, bottom: 0 },
        },
      },
      y: {
        type: "linear",
        min: -12.263,
        max: 10.277,
        afterBuildTicks: s => { s.ticks = yTicks.map(v => ({ value: v })); },
        afterFit: s => { s.width = 83; noPadding(s); },
        grid: { color: "#9a9a9a", lineWidth: 1, drawTicks: false },
        border: { display: true, color: "#222", width: 1.5, dash: [1, 3] },
        ticks: { color: "#000", padding: 8, font: { family: FONT, size: 25 } },
        title: {
          display: true,
          text: "Остаточное рассогласование по Dt, угл.сек.",
          color: "#000",
          font: { family: FONT, size: 27 },
          padding: { top: 13, bottom: 0 },
        },
      },
    },
  },
  plugins: [overlay],
});
</script>
</body>
</html>
